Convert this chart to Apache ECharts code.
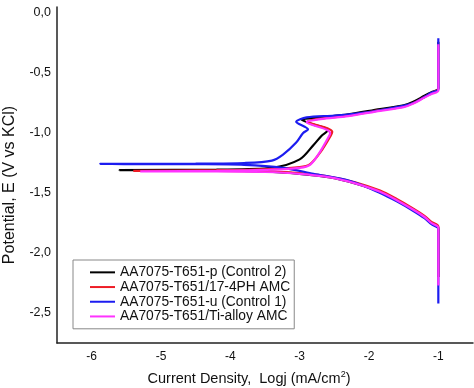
<!DOCTYPE html>
<html>
<head>
<meta charset="utf-8">
<script src="https://cdn.jsdelivr.net/npm/echarts@6/dist/echarts.min.js"></script>
<style>
html,body{margin:0;padding:0;background:#fff;}
#chart{width:474px;height:388px;}
</style>
</head>
<body>
<div id="chart"></div>
<script>
// Tick labels
const xTicks = [-6, -5, -4, -3, -2, -1];
const yTicks = [0, -0.5, -1.0, -1.5, -2.0, -2.5];

// Series names
const seriesNames = [
  'AA7075-T651-p (Control 2)',
  'AA7075-T651/17-4PH AMC',
  'AA7075-T651-u (Control 1)',
  'AA7075-T651/Ti-alloy AMC'
];

// Control 2 (black): log j, E
const blackX = [-1.0, -1.0, -1.1, -1.2, -1.36, -1.6, -1.84, -2.2, -2.56, -3.0, -3.5, -4.2, -5.6, -4.2, -3.4, -3.0, -2.8, -2.68, -2.6, -2.62, -2.8, -2.97, -2.7, -2.3, -1.84, -1.5, -1.36, -1.2, -1.1, -1.0, -1.0];
const blackY = [-2.2, -1.79, -1.75, -1.70, -1.64, -1.56, -1.49, -1.42, -1.37, -1.34, -1.32, -1.312, -1.31, -1.305, -1.29, -1.22, -1.10, -1.02, -0.98, -0.96, -0.93, -0.89, -0.87, -0.845, -0.80, -0.77, -0.74, -0.69, -0.66, -0.63, -0.24];

// 17-4PH AMC (red)
const redX = [-1.0, -1.0, -1.1, -1.2, -1.36, -1.6, -1.84, -2.2, -2.56, -3.0, -3.5, -4.2, -5.4, -4.2, -3.4, -3.0, -2.85, -2.7, -2.55, -2.53, -2.6, -2.89, -2.7, -2.3, -1.84, -1.5, -1.36, -1.2, -1.1, -1.0, -1.0];
const redY = [-2.2, -1.78, -1.74, -1.69, -1.63, -1.55, -1.48, -1.41, -1.365, -1.335, -1.32, -1.315, -1.315, -1.31, -1.30, -1.285, -1.26, -1.16, -1.02, -0.99, -0.96, -0.905, -0.88, -0.855, -0.81, -0.78, -0.75, -0.70, -0.67, -0.64, -0.64];

// Control 1 (blue)
const blueX = [-1.0, -1.0, -1.1, -1.2, -1.36, -1.6, -1.84, -2.27, -2.8, -3.24, -3.8, -4.5, -5.88, -4.5, -3.8, -3.4, -3.24, -3.05, -2.95, -2.88, -3.05, -2.9, -2.5, -2.0, -1.6, -1.36, -1.2, -1.1, -1.0, -1.0];
const blueY = [-2.42, -1.80, -1.76, -1.71, -1.65, -1.57, -1.50, -1.40, -1.34, -1.29, -1.265, -1.26, -1.258, -1.255, -1.25, -1.23, -1.18, -1.08, -1.0, -0.97, -0.906, -0.87, -0.855, -0.825, -0.785, -0.75, -0.70, -0.665, -0.635, -0.21];

// Ti-alloy AMC (magenta)
const magentaX = [-1.0, -1.0, -1.1, -1.2, -1.36, -1.6, -1.84, -2.2, -2.56, -3.0, -3.5, -4.2, -5.3, -4.2, -3.4, -3.0, -2.85, -2.72, -2.58, -2.56, -2.62, -2.9, -2.7, -2.3, -1.84, -1.5, -1.36, -1.2, -1.1, -1.0, -1.0];
const magentaY = [-2.27, -1.79, -1.75, -1.70, -1.64, -1.56, -1.49, -1.42, -1.37, -1.34, -1.325, -1.32, -1.32, -1.315, -1.305, -1.29, -1.265, -1.17, -1.03, -1.0, -0.97, -0.91, -0.885, -0.86, -0.815, -0.785, -0.755, -0.705, -0.675, -0.645, -0.26];

const colors = ['#000000', '#ee1c25', '#1c1cf0', '#ff33ff'];
const xs = [blackX, redX, blueX, magentaX];
const ys = [blackY, redY, blueY, magentaY];

const FONT = '"Liberation Sans", Arial, sans-serif';
const chart = echarts.init(document.getElementById('chart'), null, {renderer: 'canvas'});

const series = seriesNames.map((name, i) => ({
  name: name,
  type: 'line',
  data: xs[i].map((x, k) => [x, ys[i][k]]),
  showSymbol: false,
  symbol: 'none',
  smooth: 0.3,
  lineStyle: {color: colors[i], width: 2.2},
  itemStyle: {color: colors[i]},
  animation: false
}));

chart.setOption({
  animation: false,
  backgroundColor: '#ffffff',
  grid: {left: 57, right: 1, top: 7, bottom: 45, containLabel: false, outerBoundsMode: 'none'},
  xAxis: {
    type: 'value',
    min: -6.5,
    max: -0.5,
    axisLine: {onZero: false, lineStyle: {color: '#222', width: 1.5}},
    axisTick: {show: false},
    splitLine: {show: false},
    axisLabel: {
      customValues: xTicks,
      color: '#111',
      fontFamily: FONT,
      fontSize: 12,
      margin: 8,
      formatter: v => String(v)
    },
    name: 'Current Density,  Logj (mA/cm{sup|2})',
    nameLocation: 'middle',
    nameGap: 27,
    nameTextStyle: {
      color: '#111', fontFamily: FONT, fontSize: 14.5,
      padding: [0, 32, 0, 0],
      rich: {sup: {fontSize: 9, verticalAlign: 'top', padding: [0, 0, 8, 0], fontFamily: FONT, color: '#111'}}
    }
  },
  yAxis: {
    type: 'value',
    min: -2.75,
    max: 0.05,
    axisLine: {show: true, onZero: false, lineStyle: {color: '#222', width: 1.5}},
    axisTick: {show: false},
    splitLine: {show: false},
    axisLabel: {
      customValues: yTicks,
      color: '#111',
      fontFamily: FONT,
      fontSize: 12.5,
      margin: 6,
      formatter: v => v.toFixed(1).replace('.', ',')
    },
    name: 'Potential, E (V vs KCl)',
    nameLocation: 'middle',
    nameGap: 39,
    nameRotate: 90,
    nameTextStyle: {color: '#111', fontFamily: FONT, fontSize: 16, padding: [0, 20, 0, 0]}
  },
  legend: {
    orient: 'vertical',
    left: 73,
    top: 260,
    padding: [5, 4, 5, 17],
    itemGap: 0,
    itemWidth: 25,
    itemHeight: 2,
    icon: 'rect',
    borderColor: '#888',
    borderWidth: 1,
    textStyle: {color: '#111', fontFamily: FONT, fontSize: 13.8, lineHeight: 14.7},
    data: seriesNames
  },
  series: series
});
</script>
</body>
</html>
